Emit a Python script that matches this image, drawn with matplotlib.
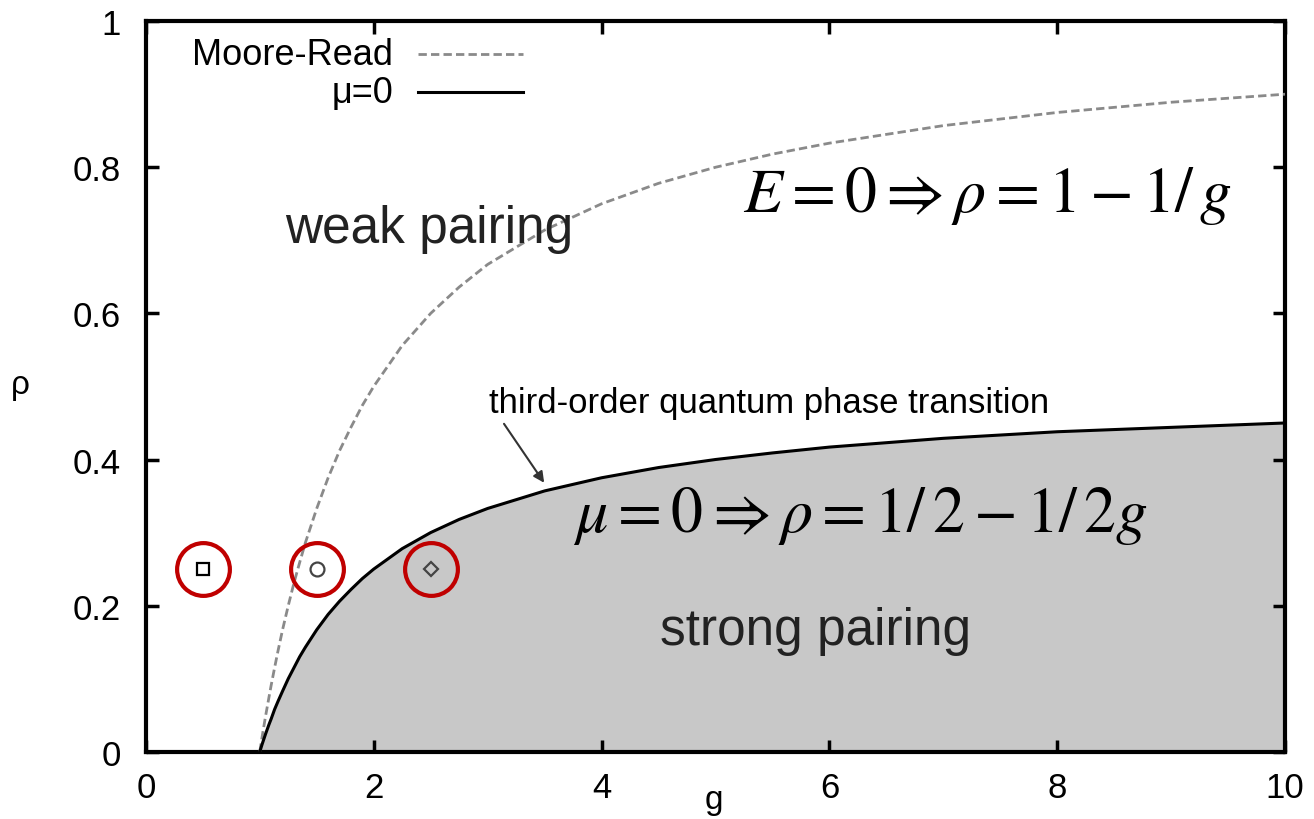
import matplotlib
matplotlib.use("Agg")
import matplotlib.pyplot as plt
from matplotlib.lines import Line2D

plt.rcParams['font.family'] = ['Liberation Sans', 'DejaVu Sans']
plt.rcParams['mathtext.fontset'] = 'stix'

# boundary curves
g_vals = [1.0, 1.02, 1.05, 1.08, 1.1, 1.13, 1.16, 1.2, 1.25, 1.3, 1.35, 1.4,
          1.5, 1.6, 1.7, 1.8, 1.9, 2.0, 2.25, 2.5, 2.75, 3.0, 3.5, 4.0, 4.5,
          5.0, 5.5, 6.0, 7.0, 8.0, 9.0, 10.0]
rho_moore_read = [0.0, 0.020, 0.048, 0.074, 0.091, 0.115, 0.138, 0.167,
                  0.200, 0.231, 0.259, 0.286, 0.333, 0.375, 0.412, 0.444,
                  0.474, 0.500, 0.556, 0.600, 0.636, 0.667, 0.714, 0.750,
                  0.778, 0.800, 0.818, 0.833, 0.857, 0.875, 0.889, 0.900]
rho_mu0 = [0.0, 0.010, 0.024, 0.037, 0.045, 0.058, 0.069, 0.083, 0.100,
           0.115, 0.130, 0.143, 0.167, 0.188, 0.206, 0.222, 0.237, 0.250,
           0.278, 0.300, 0.318, 0.333, 0.357, 0.375, 0.389, 0.400, 0.409,
           0.417, 0.429, 0.438, 0.444, 0.450]

# sample points (circled)
pts_g = [0.5, 1.5, 2.5]
pts_rho = [0.25, 0.25, 0.25]
pts_marker = ['s', 'o', 'D']

xticks = [0, 2, 4, 6, 8, 10]
yticks = [0, 0.2, 0.4, 0.6, 0.8, 1]
ytick_labels = ['0', '0.2', '0.4', '0.6', '0.8', '1']

fig = plt.figure(figsize=(13.14, 8.2), dpi=100)
ax = fig.add_axes([0.111, 0.082, 0.867, 0.891])

ax.fill_between(g_vals, 0, rho_mu0, color='#c8c8c8', lw=0, zorder=1)
ax.plot(g_vals, rho_moore_read, color='#8a8a8a', lw=2, ls=(0, (3, 1.5)), zorder=3)
ax.plot(g_vals, rho_mu0, color='black', lw=2.2, zorder=3)

for gx, ry, m in zip(pts_g, pts_rho, pts_marker):
    ms = 8 if m == 's' else (10 if m == 'o' else 7)
    ec = 'black' if m == 's' else '#444444'
    ax.plot(gx, ry, marker=m, ms=ms, mfc='none', mec=ec, mew=1.6, zorder=4)
    ax.plot(gx, ry, marker='o', ms=38, mfc='none', mec='#c00000', mew=3, zorder=5)

ax.set_xlim(0, 10)
ax.set_ylim(0, 1)
ax.set_xticks(xticks)
ax.set_xticklabels([str(t) for t in xticks])
ax.set_yticks(yticks)
ax.set_yticklabels(ytick_labels)
ax.tick_params(direction='in', length=9, width=2.5, top=True, right=True,
               labelsize=25)
ax.tick_params(axis='y', pad=18)
ax.tick_params(axis='x', pad=14)
for s in ax.spines.values():
    s.set_linewidth(3)

ax.text(-0.11, 0.503, 'ρ', transform=ax.transAxes, fontsize=24,
        ha='center', va='center')
ax.text(0.499, -0.065, 'g', transform=ax.transAxes, fontsize=24,
        ha='center', va='center')

# legend drawn by hand (text right aligned like gnuplot)
ax.text(0.217, 0.955, 'Moore-Read', transform=ax.transAxes, fontsize=26,
        ha='right', va='center')
ax.text(0.217, 0.903, 'μ=0', transform=ax.transAxes, fontsize=26,
        ha='right', va='center')
ax.add_line(Line2D([0.239, 0.331], [0.955, 0.955], transform=ax.transAxes,
                   color='#8a8a8a', lw=2, ls=(0, (3, 1.5))))
ax.add_line(Line2D([0.239, 0.331], [0.903, 0.903], transform=ax.transAxes,
                   color='black', lw=2.2))

ax.text(2.49, 0.698, 'weak pairing', fontsize=37, ha='center',
        va='baseline', color='#222222')
ax.text(5.88, 0.148, 'strong pairing', fontsize=37, ha='center',
        va='baseline', color='#222222')
ax.text(5.47, 0.465, 'third-order quantum phase transition', fontsize=25,
        ha='center', va='baseline')
ax.annotate('', xy=(3.51, 0.365), xytext=(3.13, 0.452),
            arrowprops=dict(arrowstyle='-|>', color='#333333', lw=1.5,
                            mutation_scale=16))

ax.text(7.39, 0.740, r'$E=0\Rightarrow\rho=1-1/\,g$', fontsize=46,
        ha='center', va='baseline')
ax.text(6.27, 0.302, r'$\mu=0\Rightarrow\rho=1/\,2-1/\,2g$', fontsize=46,
        ha='center', va='baseline')

fig.savefig('out.png', dpi=100)
